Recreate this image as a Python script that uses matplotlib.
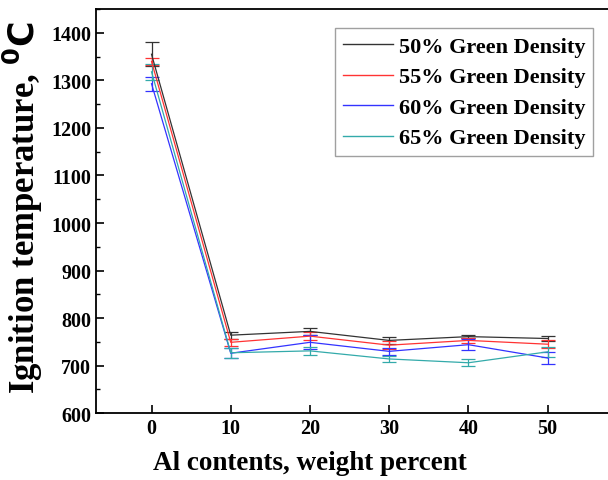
import matplotlib.pyplot as plt
from matplotlib.ticker import MultipleLocator
from matplotlib.lines import Line2D

# Al contents (wt%)
al = [0, 10, 20, 30, 40, 50]

labels = ['50% Green Density', '55% Green Density', '60% Green Density', '65% Green Density']
colors = ['#333333', '#ff3333', '#3333ff', '#33aaaa']

t50 = [1355, 764, 772, 753, 761, 757]
t55 = [1340, 749, 762, 743, 753, 745]
t60 = [1293, 726, 749, 730, 744, 716]
t65 = [1318, 727, 731, 714, 706, 729]

e50 = [25, 7, 7, 8, 3, 6]
e55 = [8, 7, 8, 9, 5, 8]
e60 = [15, 10, 15, 8, 12, 12]
e65 = [17, 10, 9, 7, 7, 10]

plt.rcParams['font.family'] = 'Liberation Serif'
plt.rcParams['font.weight'] = 'bold'

fig = plt.figure(figsize=(6.08, 4.81), dpi=100)
ax = fig.add_axes([0.158, 0.139, 0.86, 0.840])

for y, e, c in zip([t50, t55, t60, t65], [e50, e55, e60, e65], colors):
    ax.errorbar(al, y, yerr=e, color=c, lw=0.9, elinewidth=0.9, capsize=5, capthick=0.9)

ax.set_xlim(-7, 59)
ax.set_ylim(600, 1450)
ax.set_xticks(al)
ax.set_yticks(range(600, 1401, 100))
ax.yaxis.set_minor_locator(MultipleLocator(50))
ax.tick_params(direction='in', labelsize=14.5, width=1.2, length=6)
ax.tick_params(axis='y', which='minor', direction='in', length=3, width=1)
for s in ax.spines.values():
    s.set_linewidth(1.3)

ax.set_xlabel('Al contents, weight percent', fontsize=19.5, fontweight='bold')
ax.xaxis.set_label_coords(0.408, -0.09)
ax.set_ylabel('Ignition temperature, $\\mathbf{^{0}C}$', fontsize=25, fontweight='bold')
ax.yaxis.set_label_coords(-0.098, 0.51)

handles = [Line2D([], [], color=c, lw=1.0) for c in colors]
ax.legend(handles, labels, loc='upper right', bbox_to_anchor=(0.95, 0.952), fontsize=16, frameon=True,
          fancybox=False, edgecolor='#888888', handlelength=2.25, handletextpad=0.25,
          borderpad=0.35, labelspacing=0.45, borderaxespad=0)

fig.savefig('out.png', dpi=100)
